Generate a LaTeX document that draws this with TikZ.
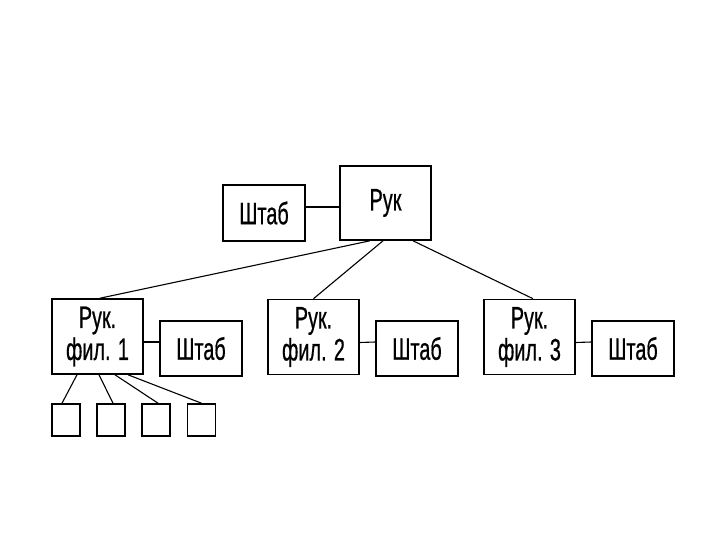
\documentclass[tikz,border=0pt]{standalone}
\usepackage{fontspec}
\setmainfont[UprightFeatures={FakeBold=0.8}]{Liberation Sans}
\usetikzlibrary{calc}
\newcommand{\nrw}[1]{\scalebox{0.64}[1]{#1}}
\tikzset{
  box/.style={draw, line width=1.6pt, inner sep=0pt, align=center,
    font=\fontsize{31}{32}\selectfont},
  bigbox/.style={box, minimum width=91pt, minimum height=75pt},
  staff/.style={box, minimum width=82pt, minimum height=55pt},
  small/.style={draw, line width=1.6pt, inner sep=0pt, minimum width=28pt, minimum height=32pt},
  link/.style={line width=1.1pt}
}
\begin{document}
\begin{tikzpicture}[x=1pt,y=-1pt]
\useasboundingbox[fill=white] (0,0) rectangle (720,540);
\node[bigbox, minimum height=74pt] (ruk) at (385.5,203) {\raisebox{4pt}{\nrw{Рук}}};
\node[staff, minimum height=56pt] (sh0) at (264,213) {\nrw{Штаб}};
\node[bigbox] (f1) at (97.5,336.5) {\nrw{Рук.}\\\nrw{фил. 1}};
\node[bigbox] (f2) at (313.5,337) {\nrw{Рук.}\\\nrw{фил. 2}};
\node[bigbox] (f3) at (529.5,337) {\nrw{Рук.}\\\nrw{фил. 3}};
\node[staff] (s1) at (201,348.5) {\nrw{Штаб}};
\node[staff] (s2) at (417,348.5) {\nrw{Штаб}};
\node[staff] (s3) at (633,348.5) {\nrw{Штаб}};
\node[small] (b1) at (66,420) {};
\node[small] (b2) at (111,420) {};
\node[small] (b3) at (156,420) {};
\node[small] (b4) at (201.5,420) {};
\draw[link] ([yshift=6pt]sh0.east) -- ([yshift=-4pt]ruk.west);
\draw[link] ([xshift=-15.5pt]ruk.south) -- ([xshift=2.5pt]f1.north);
\draw[link] ([xshift=-2.5pt]ruk.south) -- (f2.north);
\draw[link] ([xshift=27.5pt]ruk.south) -- ([xshift=3.5pt]f3.north);
\draw[link] ([yshift=-5.5pt]f1.east) -- ([yshift=6.5pt]s1.west);
\draw[link] ([yshift=-5.5pt]f2.east) -- ([yshift=6.5pt]s2.west);
\draw[link] ([yshift=-5.5pt]f3.east) -- ([yshift=6.5pt]s3.west);
\draw[link] ([xshift=-20.5pt]f1.south) -- ([xshift=-4pt]b1.north);
\draw[link] ([xshift=1.5pt]f1.south) -- ([xshift=2pt]b2.north);
\draw[link] ([xshift=17.5pt]f1.south) -- ([xshift=2pt]b3.north);
\draw[link] ([xshift=30.5pt]f1.south) -- (b4.north);
\end{tikzpicture}
\end{document}
